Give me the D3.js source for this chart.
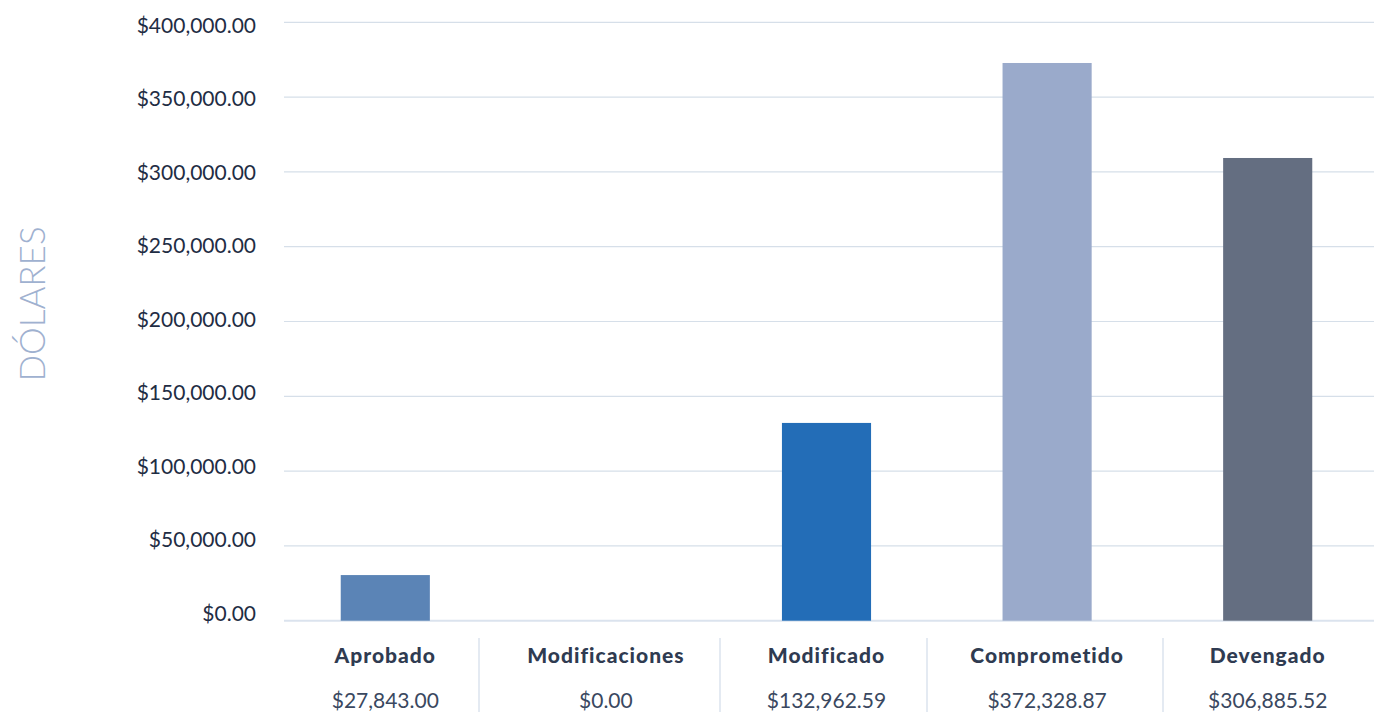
<!DOCTYPE html>
<html>
<head>
<meta charset="utf-8">
<script src="https://cdn.jsdelivr.net/npm/d3@7"></script>
<style>
  body { margin: 0; background: #fff; }
  svg { display: block; font-family: Lato, "Open Sans", sans-serif; }
</style>
</head>
<body>
<script>
const width = 1374;
const height = 717;

// data
const categories = ["Aprobado", "Modificaciones", "Modificado", "Comprometido", "Devengado"];
const amounts = ["$27,843.00", "$0.00", "$132,962.59", "$372,328.87", "$306,885.52"];
// bar heights as drawn in the picture
const barValues = [30500, 0, 132200, 372800, 309300];
const colors = ["#5b84b6", "#5b84b6", "#236db7", "#9aaacb", "#646e81"];
const yTicks = [0, 50000, 100000, 150000, 200000, 250000, 300000, 350000, 400000];

// table column dividers below the chart (layout only)
const dividerX = [479, 720, 927, 1163];

const svg = d3.select("body")
    .append("svg")
    .attr("width", width)
    .attr("height", height);

const y = d3.scaleLinear()
    .domain([0, 400000])
    .range([620.7, 22.3]);

// the tick labels sit on a slightly tighter scale than the gridlines
const yLabel = d3.scaleLinear()
    .domain([0, 400000])
    .range([612.5, 24.5]);

const x = d3.scaleBand()
    .domain(categories)
    .range([275, 1378]);

const money = d3.format("$,.2f");

// gridlines
svg.append("g")
    .selectAll("line")
    .data(yTicks)
    .enter()
    .append("line")
    .attr("x1", 284)
    .attr("x2", width)
    .attr("y1", d => y(d))
    .attr("y2", d => y(d))
    .attr("stroke", d => d === 0 ? "#dbe3ee" : "#d6dfe9")
    .attr("stroke-width", d => d === 0 ? 2 : 1.2);

// y axis labels
const yAxis = d3.axisLeft(yLabel)
    .tickValues(yTicks)
    .tickFormat(money)
    .tickSize(0)
    .tickPadding(0);

svg.append("g")
    .attr("transform", "translate(256, 0)")
    .call(yAxis)
    .call(g => g.select(".domain").remove())
    .call(g => g.selectAll("text")
        .attr("font-family", "Lato, sans-serif")
        .attr("font-size", 21)
        .attr("fill", "#1f2d44")
        .attr("dy", "0.36em"));

// bars
const barW = x.bandwidth() * 0.404;
svg.append("g")
    .selectAll("rect")
    .data(categories)
    .enter()
    .append("rect")
    .attr("x", d => x(d) + (x.bandwidth() - barW) / 2)
    .attr("width", barW)
    .attr("y", (d, i) => y(barValues[i]))
    .attr("height", (d, i) => y(0) - y(barValues[i]))
    .attr("fill", (d, i) => colors[i]);

// y title
svg.append("text")
    .attr("transform", "translate(45, 304) rotate(-90)")
    .attr("text-anchor", "middle")
    .attr("font-family", "Lato, sans-serif")
    .attr("font-weight", 300)
    .attr("font-size", 35)
    .attr("fill", "#9fb1d0")
    .text("DÓLARES");

// table below
svg.append("g")
    .selectAll("line")
    .data(dividerX)
    .enter()
    .append("line")
    .attr("x1", d => d)
    .attr("x2", d => d)
    .attr("y1", 638)
    .attr("y2", 712)
    .attr("stroke", "#dbe3ee")
    .attr("stroke-width", 1.5);

svg.append("g")
    .selectAll("text")
    .data(categories)
    .enter()
    .append("text")
    .attr("x", d => x(d) + x.bandwidth() / 2)
    .attr("y", 663)
    .attr("text-anchor", "middle")
    .attr("font-weight", 900)
    .attr("font-size", 21)
    .attr("letter-spacing", 1)
    .attr("fill", "#2f3b51")
    .text(d => d);

svg.append("g")
    .selectAll("text")
    .data(amounts)
    .enter()
    .append("text")
    .attr("x", (d, i) => x(categories[i]) + x.bandwidth() / 2)
    .attr("y", 708)
    .attr("text-anchor", "middle")
    .attr("font-size", 21)
    .attr("fill", "#3a4860")
    .text(d => d);
</script>
</body>
</html>
